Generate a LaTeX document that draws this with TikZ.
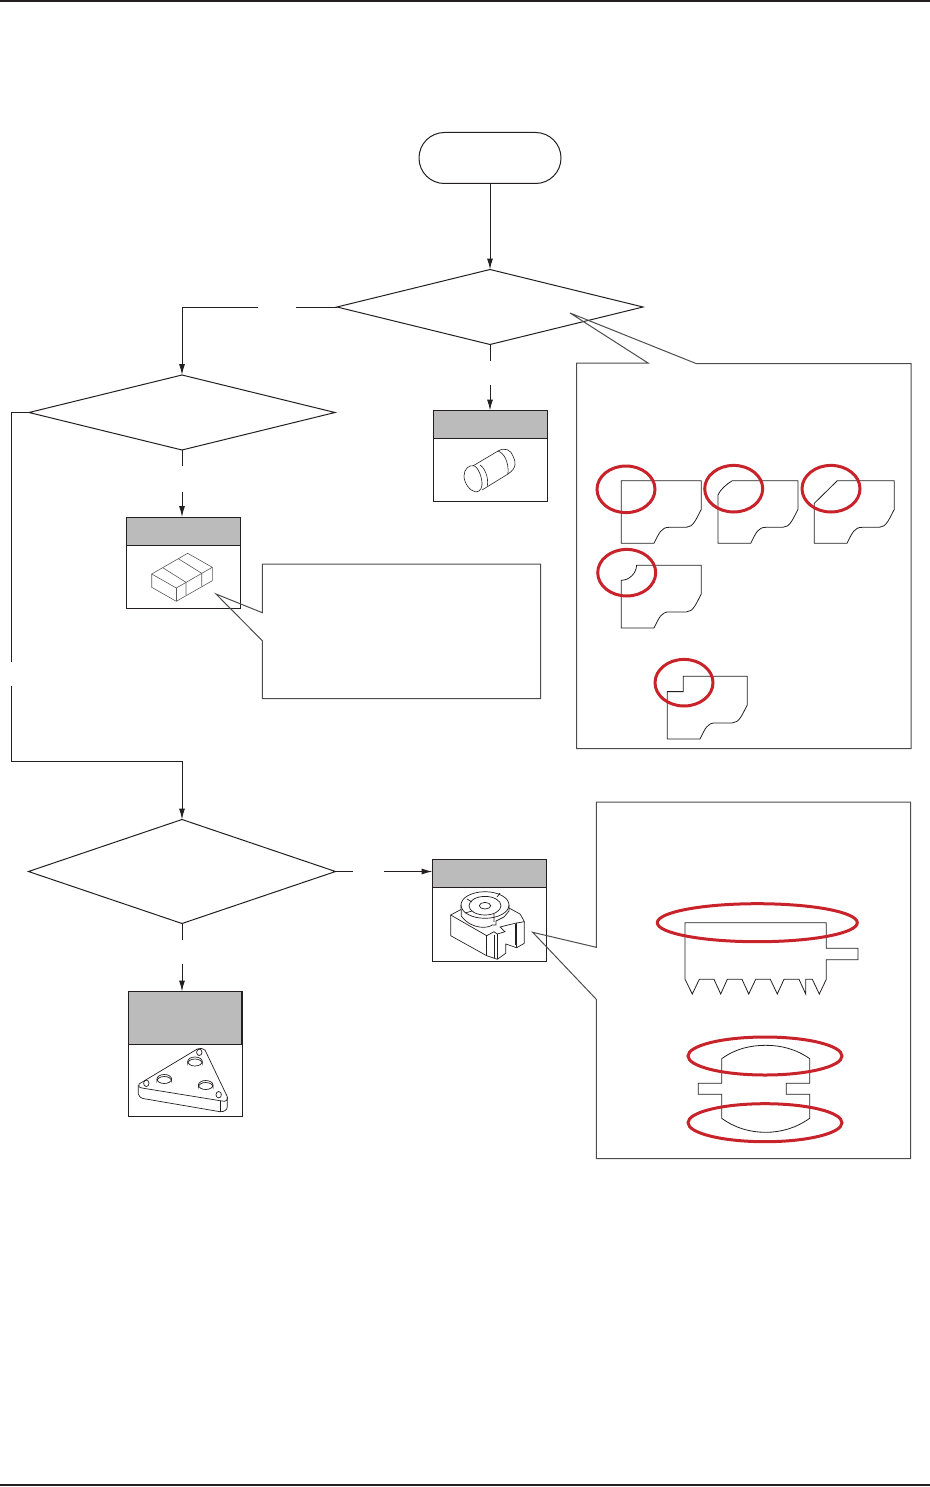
\documentclass[tikz,border=0pt]{standalone}
\usepackage{xcolor}
\usepackage{tikz}
\usetikzlibrary{shapes, arrows.meta, positioning, calc}

\definecolor{inkblack}{HTML}{231F20}
\definecolor{headgray}{HTML}{BBBBBB}
\definecolor{markred}{HTML}{C8232A}

% outline with the top left corner left open, drawn from the corner path
\newcommand{\cutplate}[2]{\draw[part, shift={#1}] #2 -- (80,0) -- (80,28.6) .. controls (75,38) and (72,46.6) .. (65,46.6) -- (48,46.6) .. controls (40,46.6) and (38,52) .. (32.7,62.6) -- (0,62.6) -- cycle;}

\begin{document}
\begin{tikzpicture}[x=0.5pt, y=-0.5pt, >={Latex[length=5.5pt,width=3pt]}, line width=0.5pt, inkblack,
					terminal/.style={rectangle, draw, rounded corners=12.7pt, minimum height=25.5pt, minimum width=71pt, inner sep=0pt, outer sep=0pt},
					decision/.style={diamond, draw, aspect=4, inner sep=0pt, outer sep=0pt, minimum width=153pt},
					header/.style={rectangle, draw, fill=headgray, minimum width=57pt, minimum height=14pt, inner sep=0pt, outer sep=0pt},
					body/.style={rectangle, draw, minimum width=57pt, minimum height=31.5pt, inner sep=0pt, outer sep=0pt},
					arrow/.style={->},
					callout/.style={draw=black!70, line join=miter},
					part/.style={line width=0.4pt},
					icon/.style={line width=0.35pt},
					redring/.style={draw=markred, line width=1.5pt}
				]
					\useasboundingbox (0,0) rectangle (930,1487);
					\draw[line width=0.8pt] (0,1) -- (930,1);
					\draw[line width=0.8pt] (0,1485) -- (930,1485);

					% Nodes
					\node[terminal] (start) at (490,158) {};
					\node[decision, minimum height=37.5pt, below=43pt of start] (choicea) {};
					\node[decision, minimum height=37.5pt] (choiceb) at (182,412.5) {};
					\node[decision, minimum height=52pt, minimum width=153.5pt] (choicec) at (182,871.5) {};
					\node[header, below=33pt of choicea] (heada) {};
					\node[body, below=0pt of heada] (bodya) {};
					\node[header, below=33.5pt of choiceb, xshift=0.5pt] (headb) {};
					\node[body, below=0pt of headb] (bodyb) {};
					\node[header] (headc) at (489.5,873.5) {};
					\node[body, minimum height=37pt, below=0pt of headc] (bodyc) {};
					\node[header, minimum height=26.5pt, below=34pt of choicec, xshift=1.5pt] (headd) {};
					\node[body, minimum height=36pt, below=0pt of headd] (bodyd) {};

					% Free ends of the broken lines
					\coordinate (breaka) at (296,307);
					\coordinate (breakb) at (258,307);
					\coordinate (breakc) at (490,361);
					\coordinate (breakd) at (490,385);
					\coordinate (breake) at (182,466);
					\coordinate (breakf) at (182,492);
					\coordinate (breakg) at (353,871.5);
					\coordinate (breakh) at (384,871.5);
					\coordinate (breaki) at (182,940);
					\coordinate (breakj) at (182,964);
					\coordinate (breakk) at (11.3,662);
					\coordinate (breakl) at (11.3,686);

					% Arrows
					\draw[arrow] (start) -- (choicea);
					\draw (choicea.west) -- (breaka);
					\draw[arrow] (breakb) -| (choiceb.north);
					\draw (choicea.south) -- (breakc);
					\draw[arrow] (breakd) -- (heada);
					\draw (choiceb.south) -- (breake);
					\draw[arrow] (breakf) -- (breakf |- headb.north);
					\draw (choiceb.west) -| (breakk);
					\draw[arrow] (breakl) |- (182,761) -- (choicec.north);
					\draw (choicec.east) -- (breakg);
					\draw[arrow] (breakh) -- (headc.west |- breakh);
					\draw (choicec.south) -- (breaki);
					\draw[arrow] (breakj) -- (breakj |- headd.north);
					\draw[line width=0.8pt] (headd.north east) -- (headd.south east);

					% Callouts
					\draw[callout] (576.5,363) -- (648,363) -- (570,313) -- (696,363.5) -- (911,363.5) -- (911,748.5) -- (576.5,748.5) -- cycle;
					\draw[callout] (262.3,564) -- (540.7,564) -- (540.7,698.7) -- (262.3,698.7) -- (262.3,640.7) -- (216,594) -- (262.3,612.7) -- cycle;
					\draw[callout] (596.3,802) -- (910.7,802) -- (910.7,1158.7) -- (596.3,1158.7) -- (596.3,999.3) -- (532.7,932.3) -- (596.3,947.3) -- cycle;

					% Corner outlines
					\cutplate{(621.3,480.7)}{(0,0)}
					\cutplate{(718,480.7)}{(0,14.3) .. controls (2,9) and (9,3) .. (14.3,0)}
					\cutplate{(814.3,480.7)}{(0,22.6) -- (23,0)}
					\cutplate{(621.3,565.3)}{(0,15) .. controls (8,15) and (15,8) .. (15.3,0)}
					\cutplate{(667.3,676.3)}{(0,15.3) -- (16,15.3) -- (16,0)}

					% Comb and barrel outlines
					\draw[part] (685,922.7) -- (826.3,922.7) -- (826.3,948.3) -- (858,948.3) -- (858,959.7) -- (826.3,959.7) -- (826.3,979.3) -- (819.3,994) -- (812.3,979.3) -- (805.7,979.3) -- (805.7,994) -- (799,979.3) -- (784,979.3) -- (777.3,994) -- (770.3,979.3) -- (755.7,979.3) -- (748.7,994) -- (742,979.3) -- (727.3,979.3) -- (720.7,994) -- (714,979.3) -- (699.3,979.3) -- (692.3,994) -- (685,979.3) -- cycle;
					\draw[part] (721.7,1058.7) .. controls (735,1049) and (750,1045.3) .. (765.7,1045.3) .. controls (781,1045.3) and (796,1049) .. (809.7,1058.7) -- (809.7,1083.3) -- (786.3,1083.3) -- (786.3,1094.3) -- (809.7,1094.3) -- (809.7,1118.3) .. controls (796,1128) and (781,1132.3) .. (765.7,1132.3) .. controls (750,1132.3) and (735,1128) .. (721.7,1118.3) -- (721.7,1094.3) -- (698.3,1094.3) -- (698.3,1083.3) -- (721.7,1083.3) -- cycle;

					% Red marks
					\foreach \cx/\cy in {626/489.3, 733.7/488.7, 831/488.7, 626.7/572.7, 684/682.7}
						\draw[redring] (\cx,\cy) ellipse (29 and 23.3);
					\draw[redring] (757.3,922.7) ellipse (100 and 19);
					\draw[redring] (765,1056) ellipse (77 and 19);
					\draw[redring] (765,1122.7) ellipse (77 and 19);

					% Chip
					\begin{scope}[line width=0.3pt, black!65]
						\draw (151.7,574) -- (187.7,553.3) -- (212.3,567.3) -- (176.3,588) -- cycle;
						\draw (151.7,574) -- (151.7,587.3) -- (176.3,601.3) -- (212.3,580.7) -- (212.3,567.3);
						\draw (176.3,588) -- (176.3,601.3);
						\draw (162.7,567.7) -- (186,582.3) -- (186,595);
						\draw (178.3,558.7) -- (201.7,573.3) -- (201.7,586);
					\end{scope}

					% Cylinder
					\begin{scope}[line width=0.3pt]
						\draw (464,476) .. controls (464,469) and (469,465) .. (473.3,465.7) .. controls (478,466) and (482.5,478) .. (482,485) .. controls (481.5,491) and (477,492.5) .. (475,491.7) .. controls (470,491) and (464,483) .. (464,476);
						\draw (473.3,465.7) -- (498,451);
						\draw (482,490) -- (508,474);
						\draw (480,465) .. controls (484,467) and (489,477) .. (487.3,486);
						\draw (498,451) .. controls (504,453) and (509,462) .. (508,474);
						\draw (498,451) .. controls (505,447) and (511,450) .. (513,456) .. controls (516,462) and (517,468) .. (508,474);
					\end{scope}

					% Part with round top
					\draw[icon] (485,905) ellipse (24 and 13.3);
					\draw[icon] (485,905.7) ellipse (16 and 9.3);
					\draw[icon] (485,905.7) ellipse (5.7 and 3.3);
					\draw[icon] (461,905) -- (461.3,916) .. controls (466,923) and (475,927.3) .. (483.3,927.3) .. controls (488,927.3) and (491,926) .. (492,925) -- (496,925) -- (496,921) -- (504,917) -- (509,911) -- (509,905);
					\draw[icon] (461.3,909.3) -- (450.7,915) -- (486.7,935.7) -- (494,931.7) -- (497.3,934) -- (505,931.7) -- (500,927) -- (515,923.3) -- (524.3,921.7) -- (521.7,916.7) -- (520,914) -- (509,908);
					\draw[icon] (450.7,915) -- (450.7,935.7) -- (486.7,955.7) -- (497.3,959.3) -- (505.7,953.3) -- (505.7,944) -- (516.7,947.7) -- (524.3,943.3) -- (524.3,921.7);
					\draw[icon] (486.7,935.7) -- (486.7,955.7);
					\draw[icon] (494,935) -- (494,957.7);
					\draw[icon] (497.3,934) -- (497.3,959.3);
					\draw[icon] (515,924) -- (515,945);
					\draw[icon] (516.7,923.3) -- (516.7,947.7);
					\draw[icon] (467,899) -- (472,902) (497,897) -- (500,893) (465,913) -- (472,911) (494,922) -- (494,914);

					% Plate
					\draw[icon] (139,1084) -- (197.3,1049) .. controls (200,1048) and (203,1048) .. (205,1050) -- (227.3,1096.7) .. controls (228,1100) and (226,1102) .. (222,1101) -- (142,1088) .. controls (139,1087.5) and (138,1086) .. (139,1084);
					\draw[icon] (138.3,1085) -- (138.3,1094) .. controls (139,1097) and (141,1098) .. (143,1098.5) -- (220,1111.7) .. controls (224,1112) and (227.3,1110) .. (227.3,1106.7) -- (227.3,1097);
					\draw[icon] (220,1101) -- (220,1111.7);
					\foreach \px/\py in {195/1061.5, 164.3/1079, 205.7/1085} {
						\draw[icon] (\px,\py) ellipse (7.3 and 4.5);
						\draw[icon] (\px-7.3,\py) -- ++(0,2) arc (180:360:7.3 and 4.5) -- ++(0,-2);
					}
					\foreach \px/\py in {199.3/1052.3, 146.3/1083.3, 218.7/1094.7}
						\draw[icon] (\px,\py) ellipse (2.7 and 3.2);
				\end{tikzpicture}
\end{document}
